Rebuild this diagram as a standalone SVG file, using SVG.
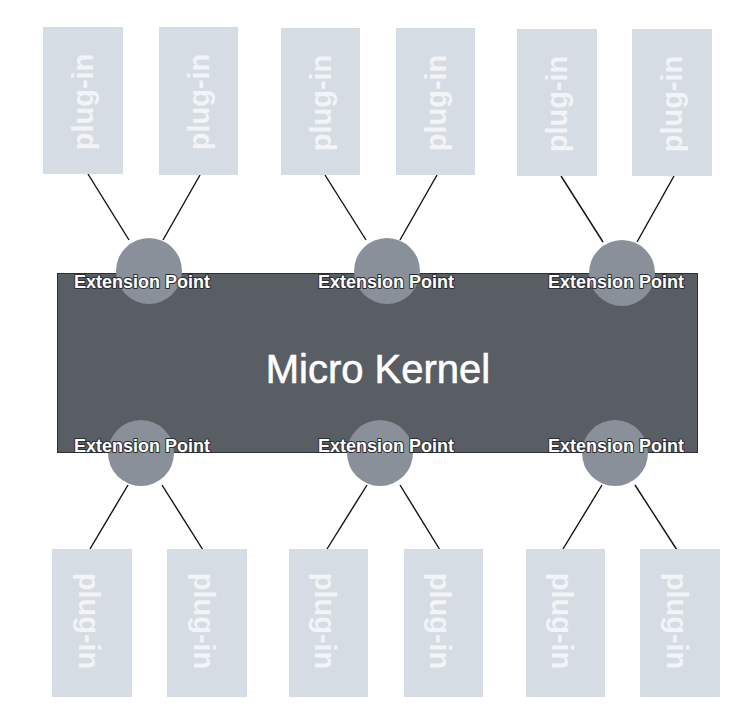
<svg xmlns="http://www.w3.org/2000/svg" width="738" height="712" viewBox="0 0 738 712">
<style>
.plug rect{fill:#d6dce3}
.plug text{font-family:"Liberation Sans",Arial,sans-serif;font-weight:bold;font-size:29px;fill:#f2f4f7;text-anchor:middle}
.conn line{stroke:#111;stroke-width:1.4}
.ep circle{fill:#89909a}
.ep text{font-family:"Liberation Sans",Arial,sans-serif;font-weight:bold;font-size:18px;fill:#fff;stroke:#2a2d31;stroke-width:2;paint-order:stroke;stroke-linejoin:round}
.kernel rect{fill:#595d64;stroke:#2e3034;stroke-width:1}
.kernel text{font-family:"Liberation Sans",Arial,sans-serif;font-size:40px;fill:#fff;stroke:#fff;stroke-width:0.6;text-anchor:middle}
</style>
<rect width="738" height="712" fill="#fff"/>
<g id="connectors" class="conn">
<line x1="88" y1="174" x2="129" y2="240"/>
<line x1="200" y1="175" x2="163" y2="240"/>
<line x1="325" y1="175" x2="366" y2="240"/>
<line x1="437" y1="175" x2="400" y2="240"/>
<line x1="561" y1="176" x2="603" y2="242"/>
<line x1="674" y1="176" x2="637" y2="242"/>
<line x1="128" y1="485" x2="90" y2="549"/>
<line x1="162" y1="485" x2="203" y2="550"/>
<line x1="367" y1="485" x2="327" y2="549"/>
<line x1="400" y1="485" x2="440" y2="550"/>
<line x1="602" y1="485" x2="563" y2="549"/>
<line x1="635" y1="485" x2="677" y2="550"/>
</g>
<g id="plugin-t1" class="plug"><rect x="43" y="27" width="80" height="147"/><text transform="translate(93,102) rotate(-90)">plug-in</text></g>
<g id="plugin-t2" class="plug"><rect x="159" y="27" width="79" height="148"/><text transform="translate(209,102) rotate(-90)">plug-in</text></g>
<g id="plugin-t3" class="plug"><rect x="281" y="28" width="79" height="147"/><text transform="translate(331,103) rotate(-90)">plug-in</text></g>
<g id="plugin-t4" class="plug"><rect x="396" y="28" width="79" height="147"/><text transform="translate(446,103) rotate(-90)">plug-in</text></g>
<g id="plugin-t5" class="plug"><rect x="517" y="29" width="80" height="147"/><text transform="translate(567,104) rotate(-90)">plug-in</text></g>
<g id="plugin-t6" class="plug"><rect x="632" y="29" width="80" height="147"/><text transform="translate(682,104) rotate(-90)">plug-in</text></g>
<g id="plugin-b1" class="plug"><rect x="52" y="549" width="80" height="148"/><text transform="translate(79,621) rotate(90)">plug-in</text></g>
<g id="plugin-b2" class="plug"><rect x="167" y="549" width="80" height="148"/><text transform="translate(194,621) rotate(90)">plug-in</text></g>
<g id="plugin-b3" class="plug"><rect x="289" y="549" width="79" height="148"/><text transform="translate(315,621) rotate(90)">plug-in</text></g>
<g id="plugin-b4" class="plug"><rect x="404" y="549" width="79" height="148"/><text transform="translate(430,621) rotate(90)">plug-in</text></g>
<g id="plugin-b5" class="plug"><rect x="526" y="549" width="79" height="148"/><text transform="translate(552,621) rotate(90)">plug-in</text></g>
<g id="plugin-b6" class="plug"><rect x="640" y="549" width="80" height="148"/><text transform="translate(667,621) rotate(90)">plug-in</text></g>
<g id="micro-kernel" class="kernel"><rect x="57.5" y="273.5" width="640" height="179"/><text x="378" y="383">Micro Kernel</text></g>
<g id="ep-t1" class="ep"><circle cx="149" cy="271" r="33"/><text x="74" y="288">Extension Point</text></g>
<g id="ep-t2" class="ep"><circle cx="387" cy="271" r="33"/><text x="318" y="288">Extension Point</text></g>
<g id="ep-t3" class="ep"><circle cx="622" cy="273" r="33"/><text x="548" y="288">Extension Point</text></g>
<g id="ep-b1" class="ep"><circle cx="141" cy="453" r="33"/><text x="74" y="452">Extension Point</text></g>
<g id="ep-b2" class="ep"><circle cx="380" cy="453" r="33"/><text x="318" y="452">Extension Point</text></g>
<g id="ep-b3" class="ep"><circle cx="615" cy="453" r="33"/><text x="548" y="452">Extension Point</text></g>
</svg>
